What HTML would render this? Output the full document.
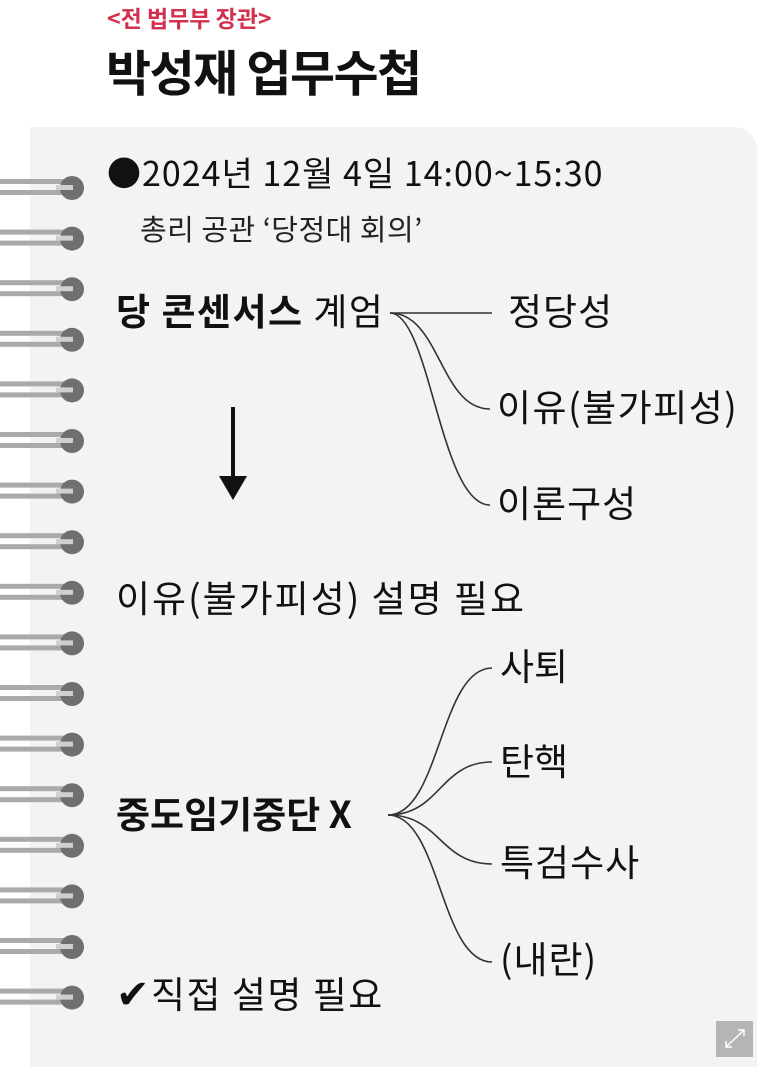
<!DOCTYPE html>
<html><head><meta charset="utf-8"><style>
body{margin:0;width:757px;height:1059px;background:#fff;position:relative;overflow:hidden;font-family:"Noto Sans CJK KR","Liberation Sans",sans-serif;color:#111}
.t{position:absolute;white-space:nowrap;line-height:1}
</style></head><body>
<div style="position:absolute;left:30px;top:127px;width:727px;height:940px;background:#f3f3f3;border-top-right-radius:22px"></div>
<div class="t" style="left:107px;top:6px;font-size:23px;font-weight:bold;color:#d3304e">&lt;전 법무부 장관&gt;</div>
<div class="t" style="left:106px;top:46px;font-size:49px;font-weight:bold;letter-spacing:-1.5px">박성재 업무수첩</div>
<div class="t" style="left:107px;top:155px;font-size:34px;letter-spacing:1px">●2024년 12월 4일 14:00~15:30</div>
<div class="t" style="left:140px;top:214px;font-size:29px;color:#222;letter-spacing:0.5px">총리 공관 ‘당정대 회의’</div>
<div class="t" style="left:116px;top:291px;font-size:37px;letter-spacing:1.5px"><b>당 콘센서스</b> 계엄</div>
<div class="t" style="left:508px;top:291px;font-size:37px;letter-spacing:1px">정당성</div>
<div class="t" style="left:497px;top:387px;font-size:37px;letter-spacing:1.5px">이유(불가피성)</div>
<div class="t" style="left:497px;top:483px;font-size:37px;letter-spacing:1px">이론구성</div>
<div class="t" style="left:116px;top:578px;font-size:37px;letter-spacing:2px">이유(불가피성) 설명 필요</div>
<div class="t" style="left:500px;top:646px;font-size:37px">사퇴</div>
<div class="t" style="left:500px;top:741px;font-size:37px">탄핵</div>
<div class="t" style="left:500px;top:842px;font-size:37px;letter-spacing:1px">특검수사</div>
<div class="t" style="left:500px;top:939px;font-size:37px;letter-spacing:1px">(내란)</div>
<div class="t" style="left:116px;top:794px;font-size:37px;font-weight:bold;letter-spacing:0px">중도임기중단 X</div>
<div class="t" style="left:116px;top:974px;font-size:37px;letter-spacing:1.5px"><b style="font-family:'DejaVu Sans',sans-serif;font-size:40px">✔</b>직접 설명 필요</div>
<svg width="757" height="1059" style="position:absolute;left:0;top:0">
<g fill="none" stroke="#333" stroke-width="1.6">
<path d="M390 313 L492 313"/>
<path d="M390 313 C440 313 440 409 490 409"/>
<path d="M390 313 C430 313 440 505 490 505"/>
<path d="M388 815 C440 815 440 668 492 668"/>
<path d="M388 815 C440 815 440 762 492 762"/>
<path d="M388 815 C440 815 440 864 492 864"/>
<path d="M388 815 C440 815 440 962 492 962"/>
</g>
<line x1="233" y1="407" x2="233" y2="480" stroke="#111" stroke-width="4"/>
<polygon points="219,476 247,476 233,500" fill="#111"/>
<g id="rings"></g>
<rect x="716" y="1021" width="37" height="36" fill="#b5b5b5"/>
<g stroke="#fff" stroke-width="1.5" fill="none"><path d="M726 1047 L744 1030 M738 1030 L744 1030 L744 1036 M726 1041 L726 1047 L732 1047"/></g>
</svg>
<script>
var g=document.getElementById('rings'),s='';
for(var i=0;i<17;i++){var y=188+i*50.6;
s+='<rect x="0" y="'+(y-9)+'" width="66" height="5" fill="#aaa"/><rect x="0" y="'+(y+2)+'" width="66" height="5" fill="#aaa"/>';
s+='<circle cx="72" cy="'+y+'" r="12" fill="#6f6f6f"/><rect x="56" y="'+(y-3)+'" width="17" height="5" fill="#d0d0d0"/>';}
g.innerHTML=s;
</script>
</body></html>
